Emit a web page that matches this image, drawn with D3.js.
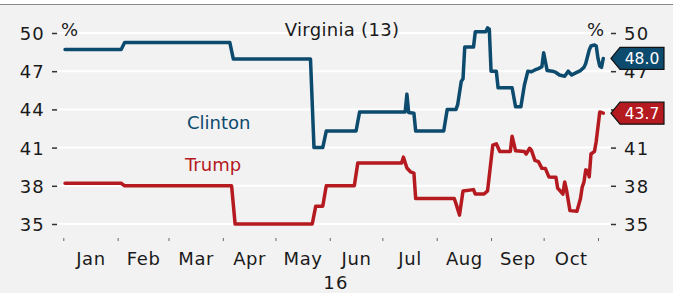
<!DOCTYPE html>
<html><head><meta charset="utf-8">
<script src="https://cdn.jsdelivr.net/npm/d3@7"></script>
<style>
html,body{margin:0;padding:0;background:#fff;}
svg{display:block;font-family:"DejaVu Sans",sans-serif;}
</style></head>
<body>
<svg id="chart" width="673" height="293"></svg>
<script>
// ---------- DATA ----------
const title = "Virginia (13)";
const yTicks = [35, 38, 41, 44, 47, 50];
const monthLabels = ["Jan","Feb","Mar","Apr","May","Jun","Jul","Aug","Sep","Oct"];
const yearLabel = "16";
const seriesNames = ["Clinton", "Trump"];

const clintonDates = ["2016-01-02","2016-02-03","2016-02-05","2016-04-05","2016-04-07","2016-05-21","2016-05-23","2016-05-28","2016-05-30","2016-06-16","2016-06-18","2016-07-14","2016-07-15","2016-07-16","2016-07-19","2016-07-20","2016-08-05","2016-08-07","2016-08-12","2016-08-13","2016-08-15","2016-08-16","2016-08-17","2016-08-22","2016-08-23","2016-08-29","2016-08-30","2016-08-31","2016-09-01","2016-09-04","2016-09-05","2016-09-13","2016-09-15","2016-09-18","2016-09-20","2016-09-22","2016-09-24","2016-09-26","2016-09-28","2016-09-30","2016-10-01","2016-10-03","2016-10-06","2016-10-08","2016-10-10","2016-10-13","2016-10-15","2016-10-17","2016-10-19","2016-10-22","2016-10-24","2016-10-25","2016-10-27","2016-10-28","2016-10-30","2016-10-31","2016-11-01","2016-11-02","2016-11-03","2016-11-04"];
const clintonValues = [48.7,48.7,49.25,49.25,47.95,47.95,41.0,41.0,42.3,42.3,43.8,43.8,45.2,43.75,43.7,42.3,42.3,44.0,44.0,44.4,46.2,46.4,48.9,48.9,50.1,50.1,50.4,50.3,47.0,47.0,45.7,45.7,44.2,44.2,45.9,47.0,46.95,47.1,47.2,47.35,48.45,47.05,47.0,46.9,46.7,46.6,47.0,46.7,46.85,47.05,47.3,47.6,48.66,48.98,49.06,48.98,48.0,47.4,47.3,48.0];

const trumpDates = ["2016-01-02","2016-02-03","2016-02-05","2016-04-06","2016-04-08","2016-05-22","2016-05-24","2016-05-28","2016-05-30","2016-06-15","2016-06-17","2016-07-12","2016-07-13","2016-07-15","2016-07-17","2016-07-19","2016-07-20","2016-08-11","2016-08-12","2016-08-14","2016-08-16","2016-08-22","2016-08-23","2016-08-28","2016-08-30","2016-09-02","2016-09-04","2016-09-06","2016-09-12","2016-09-13","2016-09-15","2016-09-20","2016-09-21","2016-09-23","2016-09-24","2016-09-26","2016-09-28","2016-09-30","2016-10-02","2016-10-04","2016-10-08","2016-10-09","2016-10-10","2016-10-12","2016-10-13","2016-10-14","2016-10-16","2016-10-20","2016-10-22","2016-10-23","2016-10-24","2016-10-25","2016-10-26","2016-10-27","2016-10-28","2016-10-30","2016-10-31","2016-11-02","2016-11-04"];
const trumpValues = [38.2,38.2,38.0,38.0,35.0,35.0,36.4,36.4,38.0,38.0,39.8,39.8,40.25,39.4,39.1,39.0,37.0,37.0,36.6,35.7,37.6,37.7,37.35,37.35,37.6,41.2,41.3,40.7,40.7,41.9,40.75,40.7,40.5,40.95,40.8,40.0,39.9,39.37,39.35,38.7,38.67,37.8,37.67,37.35,38.3,37.7,36.05,36.0,37.0,37.9,38.3,39.25,39.2,38.7,40.5,40.7,41.5,43.8,43.7];

// ---------- STYLE ----------
const blue = "#0c4a6e", red = "#b41a1f";
const svg = d3.select("#chart");
const parse = d3.timeParse("%Y-%m-%d");

svg.append("rect").attr("x",0).attr("y",0).attr("width",673).attr("height",293).attr("fill","#f2f2f2");
svg.append("rect").attr("x",0).attr("y",0).attr("width",673).attr("height",4).attr("fill","#ffffff");
svg.append("line").attr("x1",0).attr("x2",673).attr("y1",4.5).attr("y2",4.5).attr("stroke","#8a8a8a").attr("stroke-width",1.2);

const x = d3.scaleTime().domain([new Date(2016,0,1), new Date(2016,10,1)]).range([63.3, 598]);
const y = d3.scaleLinear().domain([35, 50]).range([224, 33]);

// grid
svg.append("g").selectAll("line").data(yTicks).join("line")
  .attr("x1", 58).attr("x2", 610)
  .attr("y1", d => y(d)).attr("y2", d => y(d))
  .attr("stroke", "#ffffff").attr("stroke-width", 2);

// left axis
const gl = svg.append("g").attr("transform","translate(57,0)")
  .call(d3.axisLeft(y).tickValues(yTicks).tickSize(5).tickPadding(7));
// right axis
const gr = svg.append("g").attr("transform","translate(611,0)")
  .call(d3.axisRight(y).tickValues(yTicks).tickSize(5).tickPadding(8));
[gl, gr].forEach(g => {
  g.select(".domain").remove();
  g.selectAll(".tick line").attr("stroke","#333").attr("stroke-width",1.5);
  g.selectAll(".tick text").attr("fill","#1a1a1a").style("font-size","18px")
   .style("font-family","DejaVu Sans").style("letter-spacing","1.2px").attr("dy","0.36em");
});

// bottom ticks at month starts
const monthStarts = d3.timeMonth.range(new Date(2016,0,1), new Date(2016,10,2));
const gb = svg.append("g").attr("transform","translate(0,238)")
  .call(d3.axisBottom(x).tickValues(monthStarts).tickSize(3).tickFormat(""));
gb.select(".domain").remove();
gb.selectAll(".tick line").attr("stroke","#666").attr("stroke-width",1);

// month labels at mid-month
const mids = monthStarts.slice(0, monthLabels.length).map((d,i) => new Date((+d + +monthStarts[i+1]) / 2));
const gm = svg.append("g").attr("transform","translate(0,251)")
  .call(d3.axisBottom(x).tickValues(mids).tickSize(0).tickPadding(0).tickFormat((d,i) => monthLabels[i]));
gm.select(".domain").remove();
gm.selectAll(".tick text").attr("fill","#1a1a1a").style("font-size","18px")
  .style("font-family","DejaVu Sans").style("letter-spacing","0.6px").attr("dy","0.75em");

svg.append("text").attr("x",336).attr("y",289).attr("text-anchor","middle")
  .style("font-size","18px").style("letter-spacing","1.2px").attr("fill","#1a1a1a").text(yearLabel);

// % labels and title
svg.append("text").attr("x",61).attr("y",35.5).style("font-size","18px").attr("fill","#1a1a1a").text("%");
svg.append("text").attr("x",604).attr("y",35.5).attr("text-anchor","end").style("font-size","18px").attr("fill","#1a1a1a").text("%");
svg.append("text").attr("x",342).attr("y",36).attr("text-anchor","middle").style("font-size","18px")
  .style("letter-spacing","0.3px").attr("fill","#1a1a1a").text(title);

// lines
const line = d3.line().x(d => x(d.date)).y(d => y(d.v));
const clinton = clintonDates.map((d,i) => ({date: parse(d), v: clintonValues[i]}));
const trump = trumpDates.map((d,i) => ({date: parse(d), v: trumpValues[i]}));

[[trump, red], [clinton, blue]].forEach(([data, col]) => {
  svg.append("path").datum(data).attr("d", line).attr("fill","none")
    .attr("stroke", col).attr("stroke-width", 3.5)
    .attr("stroke-linejoin","round").attr("stroke-linecap","round");
});

// series labels
svg.append("text").attr("x",187).attr("y",128.5).style("font-size","18px").attr("fill",blue).text(seriesNames[0]);
svg.append("text").attr("x",185).attr("y",170.5).style("font-size","18px").attr("fill",red).text(seriesNames[1]);

// end value tags
[[clinton, blue], [trump, red]].forEach(([data, col]) => {
  const last = data[data.length-1];
  const cy = y(last.v);
  const pts = [[611, cy],[620, cy-11],[664, cy-11],[664, cy+11],[620, cy+11]];
  svg.append("polygon").attr("points", pts.map(p => p.join(",")).join(" "))
    .attr("fill", col).attr("stroke","#111").attr("stroke-width",1.2);
  svg.append("text").attr("x",642).attr("y",cy).attr("dy","0.36em").attr("text-anchor","middle")
    .style("font-size","15.5px").attr("fill","#fff").text(d3.format(".1f")(last.v));
});
</script>
</body></html>
